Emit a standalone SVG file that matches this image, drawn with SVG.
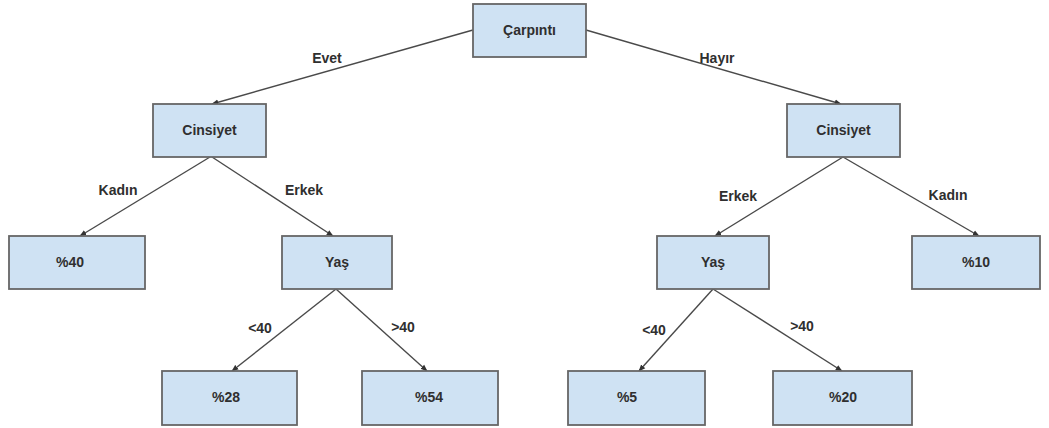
<svg xmlns="http://www.w3.org/2000/svg" width="1049" height="428" viewBox="0 0 1049 428">
  <style>
    .box { fill: #cfe2f3; stroke: #666; stroke-width: 1.8; }
    .lbl { font-family: "Liberation Sans", Arial, sans-serif; font-weight: bold; font-size: 14px; fill: #2f2f2f; text-anchor: middle; }
    .edge { stroke: #4a4a4a; stroke-width: 1.4; fill: none; marker-end: url(#arr); }
  </style>
  <defs>
    <marker id="arr" viewBox="0 0 10 10" refX="9" refY="5" markerWidth="7" markerHeight="7" orient="auto-start-reverse" markerUnits="userSpaceOnUse">
      <path d="M0,1 L10,5 L0,9 z" fill="#333"/>
    </marker>
  </defs>
  <rect width="1049" height="428" fill="#fff"/>

  <g id="connectors">
    <line class="edge" x1="473" y1="30" x2="212" y2="104"/>
    <line class="edge" x1="586" y1="30" x2="841" y2="104"/>
    <line class="edge" x1="210" y1="157" x2="80" y2="236"/>
    <line class="edge" x1="212" y1="157" x2="333" y2="236"/>
    <line class="edge" x1="843" y1="157" x2="715" y2="236"/>
    <line class="edge" x1="843" y1="157" x2="979" y2="236"/>
    <line class="edge" x1="336" y1="289" x2="232" y2="371"/>
    <line class="edge" x1="336" y1="289" x2="427" y2="371"/>
    <line class="edge" x1="713" y1="289" x2="639" y2="371"/>
    <line class="edge" x1="713" y1="289" x2="842" y2="371"/>
    <text class="lbl" x="327" y="63">Evet</text>
    <text class="lbl" x="717" y="63">Hayır</text>
    <text class="lbl" x="118" y="195">Kadın</text>
    <text class="lbl" x="304" y="195">Erkek</text>
    <text class="lbl" x="738" y="201">Erkek</text>
    <text class="lbl" x="948" y="200">Kadın</text>
    <text class="lbl" x="260" y="333">&lt;40</text>
    <text class="lbl" x="403" y="332">&gt;40</text>
    <text class="lbl" x="654" y="335">&lt;40</text>
    <text class="lbl" x="802" y="331">&gt;40</text>
  </g>

  <g id="root">
    <rect class="box" x="473" y="4" width="113" height="53"/>
    <text class="lbl" x="529.5" y="35">Çarpıntı</text>
  </g>
  <g id="cinsiyet-left">
    <rect class="box" x="153" y="104" width="113" height="53"/>
    <text class="lbl" x="209.5" y="135">Cinsiyet</text>
  </g>
  <g id="cinsiyet-right">
    <rect class="box" x="787" y="104" width="113" height="53"/>
    <text class="lbl" x="843.5" y="135">Cinsiyet</text>
  </g>
  <g id="p40">
    <rect class="box" x="9" y="236" width="136" height="53"/>
    <text class="lbl" x="70" y="267">%40</text>
  </g>
  <g id="yas-left">
    <rect class="box" x="282" y="236" width="110" height="53"/>
    <text class="lbl" x="337" y="267">Yaş</text>
  </g>
  <g id="yas-right">
    <rect class="box" x="657" y="236" width="112" height="53"/>
    <text class="lbl" x="713" y="267">Yaş</text>
  </g>
  <g id="p10">
    <rect class="box" x="912" y="236" width="128" height="53"/>
    <text class="lbl" x="976" y="267">%10</text>
  </g>
  <g id="p28">
    <rect class="box" x="162" y="371" width="135" height="54"/>
    <text class="lbl" x="226" y="402">%28</text>
  </g>
  <g id="p54">
    <rect class="box" x="362" y="371" width="136" height="54"/>
    <text class="lbl" x="429" y="402">%54</text>
  </g>
  <g id="p5">
    <rect class="box" x="568" y="371" width="137" height="54"/>
    <text class="lbl" x="627" y="402">%5</text>
  </g>
  <g id="p20">
    <rect class="box" x="773" y="371" width="139" height="54"/>
    <text class="lbl" x="843" y="402">%20</text>
  </g>
</svg>
